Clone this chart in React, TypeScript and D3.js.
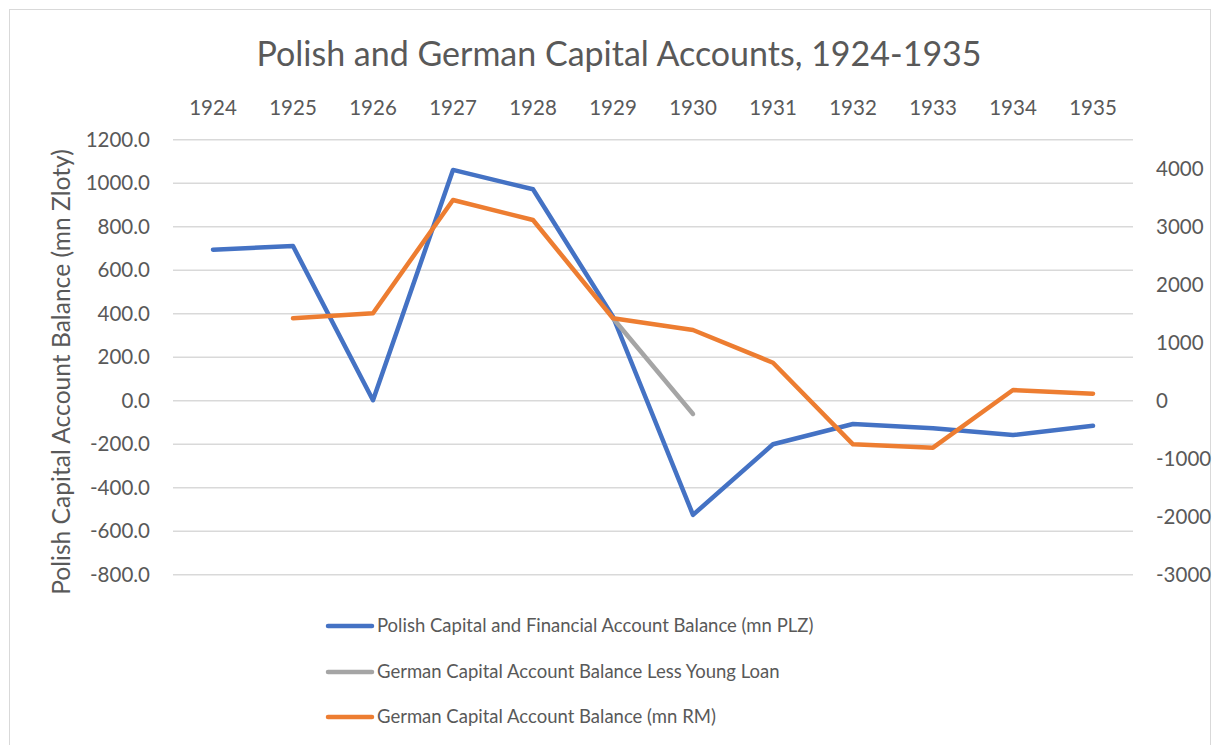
import React, { useEffect, useRef } from "react";
import * as d3 from "d3";

const years = ["1924","1925","1926","1927","1928","1929","1930","1931","1932","1933","1934","1935"];
const polish: (number | null)[] = [694, 711, 2, 1061, 972, 386, -525, -200, -107, -127, -158, -115];
const germanLessYoung: (number | null)[] = [null, null, null, null, null, 1421, -229, null, null, null, null, null];
const german: (number | null)[] = [null, 1421, 1507, 3460, 3116, 1421, 1219, 655, -752, -810, 184, 121];
const leftTicks = [1200, 1000, 800, 600, 400, 200, 0, -200, -400, -600, -800];
const rightTicks = [4000, 3000, 2000, 1000, 0, -1000, -2000, -3000];
const seriesNames = [
  "Polish Capital and Financial Account Balance (mn PLZ)",
  "German Capital Account Balance Less Young Loan",
  "German Capital Account Balance (mn RM)",
];
const colors = ["#4472C4", "#A5A5A5", "#ED7D31"];

const W = 1220, H = 745;
const FONT = "Lato, 'Open Sans', sans-serif";
const TEXT = "#595959";

export default function App() {
  const ref = useRef<SVGSVGElement>(null);
  useEffect(() => {
    const svg = d3.select(ref.current);
    svg.selectAll("*").remove();
    const left = 173, right = 1133, top = 139.7, bottom = 574.7;
    const x = d3.scaleBand().domain(years).range([left, right]);
    const yL = d3.scaleLinear().domain([-800, 1200]).range([bottom, top]);
    const yR = d3.scaleLinear().domain([-3000, 4500]).range([bottom, top]);

    svg.append("rect").attr("x", 0).attr("y", 0).attr("width", W).attr("height", H).attr("fill", "#fff");
    svg.append("rect").attr("x", 9.5).attr("y", 9.5).attr("width", 1201).attr("height", 740)
      .attr("fill", "none").attr("stroke", "#d9d9d9").attr("stroke-width", 1);

    svg.append("text").attr("x", 619).attr("y", 66).attr("text-anchor", "middle")
      .attr("font-family", FONT).attr("font-size", 34).attr("fill", TEXT)
      .text("Polish and German Capital Accounts, 1924-1935");

    // gridlines
    svg.append("g").selectAll("line").data(leftTicks).join("line")
      .attr("x1", left).attr("x2", right)
      .attr("y1", d => yL(d)).attr("y2", d => yL(d))
      .attr("stroke", "#d9d9d9").attr("stroke-width", 1.5);

    const fmt = (d: number) => d3.format(".1f")(d).replace("\u2212", "-");

    // left ticks
    svg.append("g").selectAll("text").data(leftTicks).join("text")
      .attr("x", 150).attr("y", d => yL(d)).attr("dy", "0.35em").attr("text-anchor", "end")
      .attr("font-family", FONT).attr("font-size", 20.5).attr("fill", TEXT)
      .text(d => fmt(d));

    // right ticks
    svg.append("g").selectAll("text").data(rightTicks).join("text")
      .attr("x", 1156).attr("y", d => yR(d)).attr("dy", "0.35em").attr("text-anchor", "start")
      .attr("font-family", FONT).attr("font-size", 20.5).attr("fill", TEXT)
      .text(d => String(d));

    // category labels (top)
    svg.append("g").selectAll("text").data(years).join("text")
      .attr("x", d => (x(d) as number) + x.bandwidth() / 2).attr("y", 108).attr("dy", "0.35em")
      .attr("text-anchor", "middle")
      .attr("font-family", FONT).attr("font-size", 20.5).attr("fill", TEXT)
      .text(d => d);

    // y axis title
    svg.append("text").attr("transform", `translate(70, 372) rotate(-90)`)
      .attr("text-anchor", "middle")
      .attr("font-family", FONT).attr("font-size", 24.6).attr("fill", TEXT)
      .text("Polish Capital Account Balance (mn Zloty)");

    const cx = (d: string) => (x(d) as number) + x.bandwidth() / 2;
    const mk = (scale: d3.ScaleLinear<number, number>) =>
      d3.line<number | null>()
        .defined(d => d !== null)
        .x((_, i) => cx(years[i]))
        .y(d => scale(d as number));

    const series: [(number | null)[], d3.ScaleLinear<number, number>][] = [
      [polish, yL], [germanLessYoung, yR], [german, yR],
    ];
    series.forEach(([data, scale], i) => {
      svg.append("path").datum(data).attr("d", mk(scale)(data) as string)
        .attr("fill", "none").attr("stroke", colors[i]).attr("stroke-width", 4.5)
        .attr("stroke-linejoin", "round").attr("stroke-linecap", "round");
    });

    // legend
    const ly = [626, 672, 717];
    seriesNames.forEach((name, i) => {
      svg.append("line").attr("x1", 328).attr("x2", 372).attr("y1", ly[i]).attr("y2", ly[i])
        .attr("stroke", colors[i]).attr("stroke-width", 4.5).attr("stroke-linecap", "round");
      svg.append("text").attr("x", 377).attr("y", ly[i]).attr("dy", "0.35em")
        .attr("font-family", FONT).attr("font-size", 18.5).attr("fill", TEXT).text(name);
    });
  }, []);
  return <svg ref={ref} width={W} height={H} style={{ position: "absolute", left: 0, top: 0 }} />;
}
